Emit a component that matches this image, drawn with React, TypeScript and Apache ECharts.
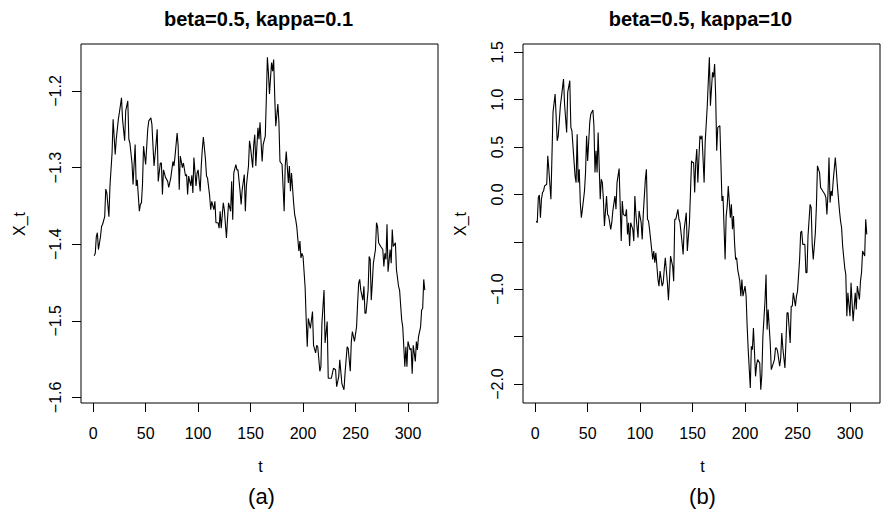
import React, { useEffect, useRef } from "react";
import * as echarts from "echarts";

// Panel (a): beta=0.5, kappa=0.1
const T_A = [
  1, 2, 3, 4, 5, 7, 8, 9, 11, 12,
  13, 15, 16, 18, 19, 21, 22, 24, 25, 27,
  28, 30, 31, 33, 34, 35, 37, 38, 40, 41,
  42, 44, 45, 46, 47, 48, 50, 52, 53, 55,
  56, 57, 58, 60, 61, 62, 64, 65, 66, 67,
  69, 71, 72, 74, 76, 77, 78, 80, 81, 82,
  83, 85, 86, 88, 89, 90, 91, 93, 94, 95,
  96, 98, 99, 100, 102, 103, 104, 105, 107, 108,
  109, 111, 112, 113, 115, 116, 117, 119, 120, 121,
  122, 124, 125, 127, 128, 129, 131, 132, 133, 134,
  136, 137, 138, 140, 141, 142, 144, 145, 146, 148,
  149, 150, 152, 153, 154, 155, 157, 158, 159, 161,
  162, 164, 165, 166, 167, 168, 170, 171, 172, 173,
  174, 176, 177, 178, 180, 182, 183, 184, 186, 187,
  188, 189, 191, 192, 193, 194, 196, 197, 198, 199,
  200, 202, 203, 204, 205, 207, 208, 209, 210, 212,
  213, 214, 216, 217, 218, 220, 221, 223, 224, 226,
  227, 229, 231, 232, 234, 235, 237, 239, 240, 242,
  243, 245, 246, 247, 249, 251, 252, 253, 254, 255,
  257, 258, 259, 260, 262, 263, 264, 265, 266, 267,
  269, 270, 271, 272, 274, 276, 277, 278, 279, 280,
  281, 283, 284, 285, 286, 288, 289, 291, 292, 294,
  295, 297, 298, 299, 300, 302, 303, 304, 305, 307,
  308, 309, 310, 312, 313, 314, 315, 316,
];
const X_A = [
  -1.415, -1.412, -1.39, -1.385, -1.407, -1.39, -1.377, -1.374, -1.364, -1.328,
  -1.333, -1.364, -1.324, -1.281, -1.237, -1.283, -1.263, -1.237, -1.228, -1.209,
  -1.237, -1.265, -1.226, -1.213, -1.263, -1.268, -1.294, -1.322, -1.27, -1.324,
  -1.316, -1.357, -1.348, -1.346, -1.322, -1.272, -1.296, -1.25, -1.239, -1.235,
  -1.244, -1.272, -1.298, -1.268, -1.25, -1.318, -1.294, -1.294, -1.335, -1.303,
  -1.313, -1.318, -1.326, -1.313, -1.292, -1.298, -1.285, -1.255, -1.272, -1.329,
  -1.285, -1.3, -1.294, -1.311, -1.309, -1.335, -1.311, -1.324, -1.31, -1.333,
  -1.287, -1.324, -1.307, -1.303, -1.331, -1.298, -1.276, -1.26, -1.289, -1.311,
  -1.314, -1.337, -1.355, -1.344, -1.355, -1.344, -1.372, -1.372, -1.379, -1.357,
  -1.379, -1.346, -1.355, -1.392, -1.368, -1.346, -1.357, -1.318, -1.368, -1.307,
  -1.296, -1.303, -1.303, -1.331, -1.348, -1.329, -1.309, -1.357, -1.324, -1.298,
  -1.265, -1.274, -1.3, -1.27, -1.257, -1.298, -1.248, -1.263, -1.241, -1.292,
  -1.27, -1.259, -1.211, -1.156, -1.176, -1.204, -1.163, -1.174, -1.159, -1.207,
  -1.246, -1.217, -1.241, -1.292, -1.296, -1.357, -1.298, -1.279, -1.32, -1.298,
  -1.331, -1.307, -1.346, -1.361, -1.368, -1.377, -1.409, -1.396, -1.418, -1.412,
  -1.416, -1.457, -1.499, -1.534, -1.497, -1.51, -1.499, -1.488, -1.532, -1.542,
  -1.532, -1.534, -1.566, -1.56, -1.503, -1.46, -1.529, -1.501, -1.575, -1.575,
  -1.575, -1.562, -1.564, -1.586, -1.573, -1.551, -1.582, -1.59, -1.569, -1.534,
  -1.536, -1.566, -1.527, -1.514, -1.527, -1.508, -1.477, -1.451, -1.446, -1.46,
  -1.473, -1.455, -1.49, -1.49, -1.46, -1.416, -1.42, -1.473, -1.451, -1.425,
  -1.407, -1.372, -1.377, -1.398, -1.403, -1.407, -1.429, -1.412, -1.42, -1.374,
  -1.436, -1.407, -1.425, -1.381, -1.403, -1.398, -1.433, -1.455, -1.46, -1.499,
  -1.508, -1.56, -1.534, -1.56, -1.527, -1.538, -1.536, -1.569, -1.532, -1.553,
  -1.527, -1.538, -1.521, -1.508, -1.486, -1.484, -1.446, -1.46,
];

// Panel (b): beta=0.5, kappa=10
const T_B = [
  1, 2, 3, 4, 5, 6, 7, 8, 9, 11,
  12, 13, 15, 16, 17, 19, 21, 22, 24, 25,
  27, 28, 30, 31, 33, 34, 35, 36, 38, 39,
  40, 41, 42, 43, 44, 45, 47, 48, 49, 50,
  52, 53, 55, 56, 57, 58, 59, 60, 62, 63,
  64, 65, 66, 68, 69, 70, 72, 73, 74, 76,
  77, 78, 80, 82, 83, 84, 86, 87, 88, 89,
  90, 91, 93, 94, 95, 96, 98, 99, 101, 102,
  103, 105, 106, 107, 108, 109, 111, 112, 113, 114,
  115, 117, 118, 119, 121, 122, 123, 124, 126, 127,
  128, 129, 131, 132, 133, 134, 136, 137, 138, 140,
  141, 142, 144, 145, 147, 148, 149, 150, 151, 152,
  153, 154, 155, 157, 158, 159, 160, 161, 162, 164,
  165, 166, 167, 169, 170, 171, 172, 173, 174, 176,
  177, 178, 179, 181, 182, 183, 184, 186, 187, 188,
  189, 190, 191, 192, 193, 195, 196, 197, 198, 200,
  201, 202, 203, 205, 206, 207, 208, 210, 211, 212,
  214, 215, 216, 217, 219, 220, 221, 222, 224, 225,
  226, 228, 229, 230, 231, 233, 234, 235, 236, 238,
  239, 240, 241, 243, 244, 245, 246, 248, 249, 250,
  252, 253, 254, 255, 257, 258, 259, 260, 262, 263,
  264, 265, 267, 268, 269, 271, 272, 273, 274, 276,
  277, 278, 279, 280, 281, 282, 283, 284, 286, 287,
  288, 290, 291, 292, 293, 295, 296, 297, 298, 300,
  301, 302, 303, 305, 306, 307, 309, 310, 311, 312,
  314, 315, 316,
];
const X_B = [
  -0.28, -0.298, -0.033, -0.005, -0.245, -0.051, 0.02, 0.037, 0.09, 0.108,
  0.407, 0.266, -0.051, 0.407, 0.866, 1.059, 0.566, 0.619, 0.936, 1.024,
  1.218, 0.954, 0.654, 1.077, 1.2, 0.707, 0.672, 0.513, 0.196, 0.125,
  0.636, 0.125, 0.266, -0.086, -0.245, -0.157, 0.037, 0.231, 0.619, 0.354,
  0.76, 0.848, 0.89, 0.725, 0.231, 0.46, 0.231, 0.654, -0.051, 0.161,
  0.125, -0.051, -0.333, -0.016, -0.21, -0.227, -0.368, -0.298, -0.174, -0.016,
  -0.157, 0.125, 0.273, -0.492, -0.069, -0.21, -0.227, -0.157, -0.421, -0.298,
  -0.544, -0.298, -0.368, -0.492, -0.016, -0.21, -0.456, -0.174, -0.298, -0.474,
  -0.21, 0.161, 0.266, -0.262, -0.28, -0.368, -0.58, -0.685, -0.597, -0.721,
  -0.615, -0.897, -0.967, -0.809, -0.967, -0.932, -0.791, -0.668, -0.932, -1.115,
  -0.897, -0.65, -0.756, -0.915, -0.262, -0.262, -0.157, -0.262, -0.298, -0.509,
  -0.633, -0.368, -0.192, -0.597, -0.298, 0.02, 0.354, 0.337, 0.337, 0.02,
  0.337, 0.478, 0.125, 0.619, 0.584, 0.619, 0.372, 0.125, 0.548, 0.936,
  1.2, 1.447, 0.936, 1.289, 1.236, 1.377, 1.042, 0.46, 0.707, 0.725,
  0.337, -0.069, -0.016, -0.685, -0.227, -0.121, 0.09, -0.245, -0.104, -0.368,
  -0.227, -0.509, -0.685, -0.668, -0.791, -0.915, -1.073, -0.897, -1.073, -0.967,
  -1.073, -1.39, -1.637, -2.042, -1.602, -1.637, -1.408, -1.919, -1.796, -1.743,
  -1.778, -2.06, -1.901, -1.496, -1.126, -0.844, -1.426, -1.214, -1.567, -1.849,
  -1.813, -1.743, -1.62, -1.62, -1.655, -1.813, -1.725, -1.461, -1.62, -1.831,
  -1.549, -1.249, -1.249, -1.567, -1.179, -1.179, -1.038, -1.179, -1.073, -1.02,
  -0.685, -0.403, -0.386, -0.527, -0.527, -0.826, -0.826, -0.439, -0.104, -0.139,
  -0.527, -0.685, -0.403, -0.121, 0.302, 0.231, 0.072, 0.055, 0.037, 0.002,
  -0.033, -0.21, 0.002, 0.39, -0.086, 0.037, -0.016, 0.143, 0.39, 0.249,
  0.09, -0.174, -0.28, -0.351, -0.544, -0.774, -0.844, -1.285, -1.038, -1.285,
  -0.932, -1.144, -1.337, -1.038, -1.214, -0.967, -1.108, -0.915, -0.826, -0.597,
  -0.65, -0.262, -0.421,
];

const T_TICKS = [0, 50, 100, 150, 200, 250, 300];
const Y_TICKS_A = [-1.6, -1.5, -1.4, -1.3, -1.2];
const Y_TICKS_B = [-2, -1.5, -1, -0.5, 0, 0.5, 1, 1.5];
const Y_LABELS_B = [-2, -1, 0, 0.5, 1, 1.5];
const TITLES = ["beta=0.5, kappa=0.1", "beta=0.5, kappa=10"];
const PANEL_TAGS = ["(a)", "(b)"];
const X_NAME = "t";
const Y_NAME = "X_t";

const FONT = "'Liberation Sans', Arial, Helvetica, sans-serif";

// plot boxes, in px
const BOXES = [
  { left: 81, top: 44, width: 357, height: 359 },
  { left: 523, top: 44, width: 357, height: 359 },
];

// R-style 4% padding around the data range
const padMin = (v: { min: number; max: number }) => v.min - 0.04 * (v.max - v.min);
const padMax = (v: { min: number; max: number }) => v.max + 0.04 * (v.max - v.min);

const fmt = (v: number) => v.toFixed(1).replace("-", "\u2212");

function xAxisFor(gridIndex: number) {
  return {
    type: "value",
    gridIndex,
    position: "bottom",
    min: padMin,
    max: padMax,
    axisLine: { show: false, onZero: false },
    splitLine: { show: false },
    axisTick: {
      show: true,
      inside: false,
      length: 9,
      customValues: T_TICKS,
      lineStyle: { color: "#000", width: 1 },
    },
    axisLabel: {
      show: true,
      customValues: T_TICKS,
      margin: 22,
      fontSize: 16,
      fontFamily: FONT,
      color: "#000",
      formatter: (v: number) => String(v),
    },
  };
}

function yAxisFor(gridIndex: number, ticks: number[], labels: number[]) {
  return {
    type: "value",
    gridIndex,
    position: "left",
    min: padMin,
    max: padMax,
    axisLine: { show: false, onZero: false },
    splitLine: { show: false },
    axisTick: {
      show: true,
      inside: false,
      length: 9,
      customValues: ticks,
      lineStyle: { color: "#000", width: 1 },
    },
    axisLabel: {
      show: true,
      customValues: labels,
      rotate: 90,
      margin: 18,
      fontSize: 16,
      fontFamily: FONT,
      color: "#000",
      formatter: (v: number) => fmt(v),
    },
  };
}

function textEl(text: string, x: number, y: number, size: number, bold = false, rotation = 0) {
  return {
    type: "text",
    x,
    y,
    rotation,
    silent: true,
    style: {
      text,
      x: 0,
      y: 0,
      fill: "#000",
      fontSize: size,
      fontFamily: FONT,
      fontWeight: bold ? "bold" : "normal",
      align: "center",
      verticalAlign: "middle",
      textAlign: "center",
      textVerticalAlign: "middle",
    },
  };
}

export default function App() {
  const ref = useRef<HTMLDivElement>(null);

  useEffect(() => {
    if (!ref.current) return;
    const chart = echarts.init(ref.current, null, { renderer: "svg" });

    const seriesA = T_A.map((t, i) => [t, X_A[i]]);
    const seriesB = T_B.map((t, i) => [t, X_B[i]]);

    const centers = BOXES.map((b) => b.left + b.width / 2);

    chart.setOption({
      animation: false,
      backgroundColor: "#fff",
      grid: BOXES.map((b) => ({
        ...b,
        show: true,
        borderColor: "#000",
        borderWidth: 1,
        backgroundColor: "transparent",
        containLabel: false,
      })),
      xAxis: [xAxisFor(0), xAxisFor(1)],
      yAxis: [yAxisFor(0, Y_TICKS_A, Y_TICKS_A), yAxisFor(1, Y_TICKS_B, Y_LABELS_B)],
      series: [
        {
          type: "line",
          xAxisIndex: 0,
          yAxisIndex: 0,
          data: seriesA,
          symbol: "none",
          showSymbol: false,
          lineStyle: { color: "#000", width: 1.1 },
        },
        {
          type: "line",
          xAxisIndex: 1,
          yAxisIndex: 1,
          data: seriesB,
          symbol: "none",
          showSymbol: false,
          lineStyle: { color: "#000", width: 1.1 },
        },
      ],
      graphic: [
        textEl(TITLES[0], centers[0] - 1, 19, 20, true),
        textEl(TITLES[1], centers[1] - 1, 19, 20, true),
        textEl(X_NAME, centers[0] + 1, 466, 16),
        textEl(X_NAME, centers[1] + 1, 466, 16),
        textEl(Y_NAME, 19, 224, 16, false, Math.PI / 2),
        textEl(Y_NAME, 460, 224, 16, false, Math.PI / 2),
        textEl(PANEL_TAGS[0], centers[0] + 2, 496, 22),
        textEl(PANEL_TAGS[1], centers[1] + 1, 496, 22),
      ],
    });

    return () => chart.dispose();
  }, []);

  return (
    <div
      ref={ref}
      style={{ position: "absolute", left: 0, top: 0, width: 882, height: 509 }}
    />
  );
}
